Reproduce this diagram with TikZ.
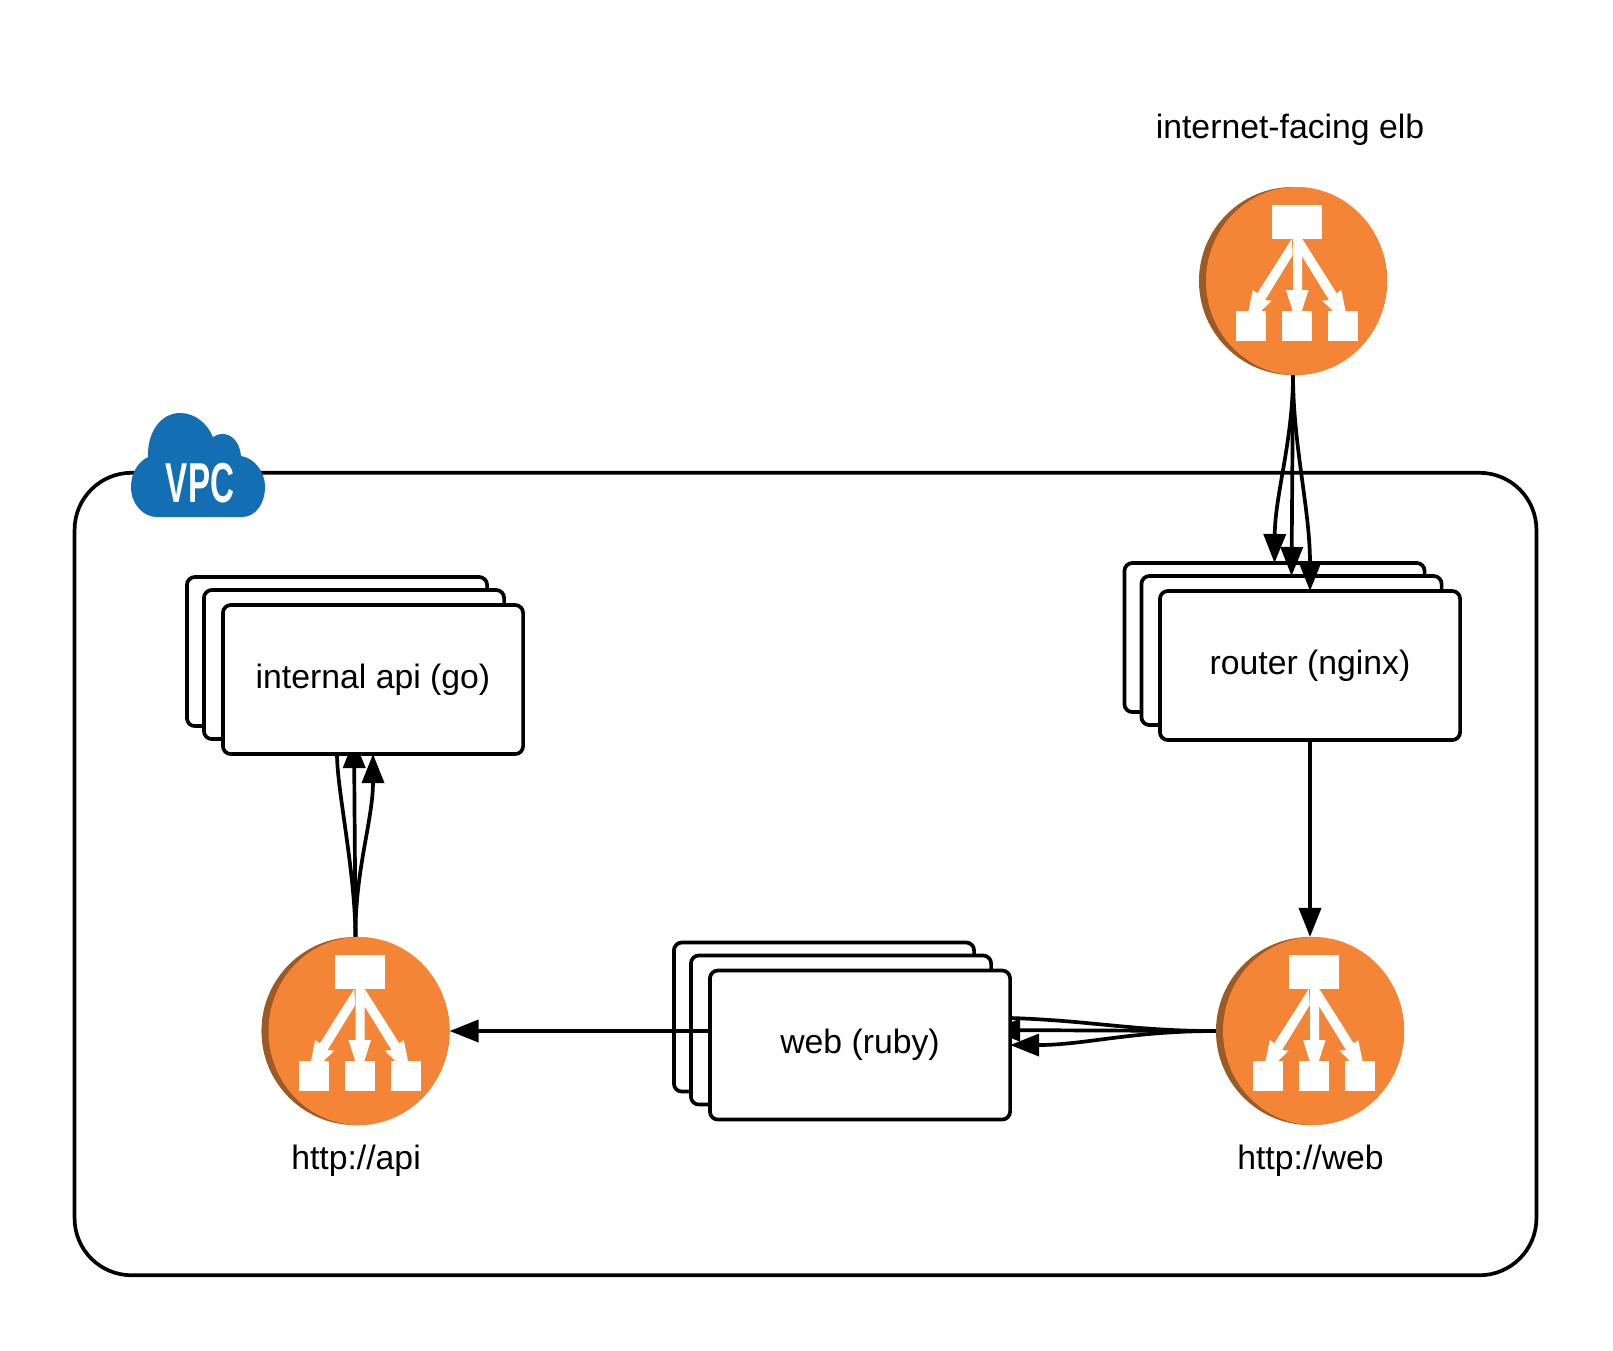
\documentclass[tikz,border=0pt]{standalone}
\usepackage{fontspec}
\setmainfont{Liberation Sans}
\usetikzlibrary{arrows.meta}
\definecolor{elborange}{HTML}{F58536}
\definecolor{elbbrown}{HTML}{9D5A25}
\definecolor{vpcblue}{HTML}{146EB4}
\tikzset{
  lbl/.style={font=\fontsize{9.6}{11}\selectfont,inner sep=0pt},
  vpcbox/.style={draw,line width=1.05pt,rounded corners=0.57cm,minimum width=14.61cm,minimum height=8.02cm,outer sep=0pt},
  srvbox/.style={draw,fill=white,line width=1.05pt,rounded corners=0.08cm,minimum width=3cm,minimum height=1.49cm,inner sep=0pt,outer sep=0pt,font=\fontsize{9.6}{11}\selectfont},
  elbdisc/.style={circle,fill=elbbrown,minimum size=1.88cm,inner sep=0pt,outer sep=0pt},
  conn/.style={-{Triangle[length=0.29cm,width=0.22cm]},line width=1.05pt}
}
\begin{document}
\begin{tikzpicture}[x=0.01cm,y=-0.01cm]
  \useasboundingbox (0,0) rectangle (1613,1350);

  % VPC frame and cloud
  \node[vpcbox] (vpc) at (805.5,874) {};
  \fill[vpcblue] (157,517) -- (242,517) .. controls (256,517) and (265,503) .. (265,487)
    .. controls (265,471) and (254,458) .. (241,456) .. controls (240,443) and (232,434) .. (223,434)
    .. controls (219,434) and (216,435) .. (213,437) .. controls (207,423) and (195,413) .. (180,413)
    .. controls (161,413) and (147,432) .. (148,457) .. controls (138,462) and (131,473) .. (131,487)
    .. controls (131,504) and (143,517) .. (157,517) -- cycle;
  \node[transform shape,xscale=0.59,text=white,inner sep=0pt,font=\fontsize{16}{18}\selectfont\bfseries,anchor=base] (vpclbl) at (200,502) {VPC};

  % Load balancers
  \foreach \cx/\cy/\nm in {1293/281/elbtop,355.5/1031/elbapi,1310/1031/elbweb} {
    \node[elbdisc] (\nm) at (\cx,\cy) {};
    \begin{scope}[shift={(\cx,\cy)}]
      \fill[elborange] (3.5,0) ellipse [x radius=90.5,y radius=94];
      \fill[white] (-21,-76) rectangle (29,-42);
      \foreach \sx in {-57,-11,35}
        \fill[white] (\sx,30) rectangle (\sx+30,60);
      % arrows inside the icon
      \fill[white] (0,-42) -- (9,-42) -- (9,9) -- (15.5,9) -- (8.5,31) -- (0,31) -- (-7,9) -- (0,9) -- cycle;
      \fill[white] (-1.3,-42) -- (-35.7,12.3) -- (-40.3,9) -- (-44.7,31) -- (-33,31) -- (-21.3,19.7) -- (-28,19) -- (-0.3,-26) -- cycle;
      \fill[white] (9.3,-42) -- (43.7,12.3) -- (48.3,9) -- (52.7,31) -- (41,31) -- (29.3,19.7) -- (36,19) -- (8.3,-26) -- cycle;
    \end{scope}
  }

  % Router stack
  \node[srvbox] (routerback) at (1274.5,637.5) {};
  \draw[conn] (elbtop.south) .. controls (1293,440) and (1275,495) .. (routerback.north);
  \node[srvbox] (routermid) at (1291.5,650.5) {};
  \draw[conn] (elbtop.south) -- (routermid.north);
  \node[srvbox] (routerfront) at (1310,665.5) {router (nginx)};
  \draw[conn] (elbtop.south) .. controls (1293,445) and (1310,510) .. (routerfront.north);

  % Web stack
  \node[srvbox] (webback) at (824,1017) {};
  \draw[conn] (elbweb.west) .. controls (1130,1031) and (1090,1020) .. (webback.east);
  \node[srvbox] (webmid) at (841,1030) {};
  \draw[conn] (elbweb.west) -- (webmid.east);
  \node[srvbox] (webfront) at (860,1045) {web (ruby)};
  \draw[conn] (elbweb.west) .. controls (1130,1031) and (1085,1045) .. (webfront.east);

  % Internal api stack
  \node[srvbox] (apiback) at (337,651.5) {};
  \draw[conn] (elbapi.north) .. controls (355,870) and (337,790) .. (apiback.south);
  \node[srvbox] (apimid) at (354,664.5) {};
  \draw[conn] (elbapi.north) -- (apimid.south);
  \node[srvbox] (apifront) at (373,679.5) {internal api (go)};
  \draw[conn] (elbapi.north) .. controls (355,870) and (373,820) .. (apifront.south);

  % Remaining connectors
  \draw[conn] (routerfront.south) -- (elbweb.north);
  \draw[conn] (elbapi.east -| webfront.west) -- (elbapi.east);

  % Labels
  \node[lbl,anchor=base] (lblelb) at (1290,138) {internet-facing elb};
  \node[lbl,anchor=base] (lblapi) at (356,1169) {http://api};
  \node[lbl,anchor=base] (lblweb) at (1310.5,1169) {http://web};
\end{tikzpicture}
\end{document}
